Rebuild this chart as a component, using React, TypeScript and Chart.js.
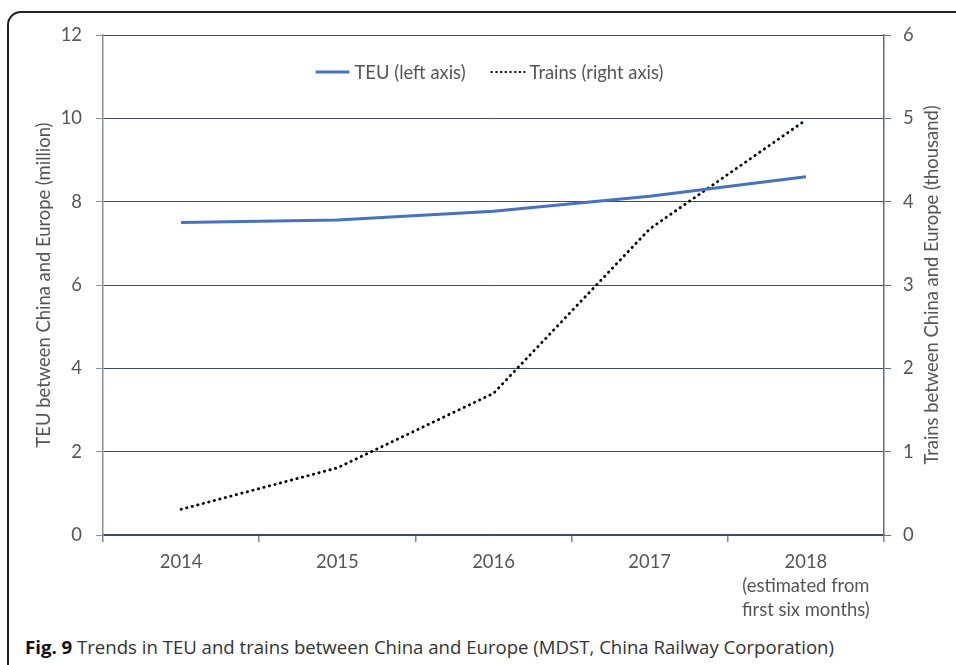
import { useEffect, useRef } from "react";
import { Chart, registerables } from "chart.js";

Chart.register(...registerables);

const categories: string[][] = [
  ["2014"],
  ["2015"],
  ["2016"],
  ["2017"],
  ["2018", "(estimated from", "first six months)"],
];
const teuValues = [7.5, 7.56, 7.77, 8.13, 8.6];
const trainValues = [0.308, 0.805, 1.7, 3.673, 4.98];
const teuLabel = "TEU (left axis)";
const trainLabel = "Trains (right axis)";
const leftTitle = "TEU between China and Europe (million)";
const rightTitle = "Trains between China and Europe (thousand)";

const FONT = "Lato";
const FS = 18.4;
const TXT = "#555555";
const GRID = "#3d4b69";
const BLUE = "#4472c4";

const legendAndTitlePlugin = {
  id: "customLegendTitle",
  afterDraw(chart: any) {
    const { ctx, chartArea } = chart;
    ctx.save();
    ctx.font = `${FS}px ${FONT}`;
    ctx.fillStyle = TXT;
    ctx.textBaseline = "middle";
    const sample = 34;
    const gapText = 5;
    const gapItem = 25;
    const w1 = ctx.measureText(teuLabel).width;
    const w2 = ctx.measureText(trainLabel).width;
    const total = sample + gapText + w1 + gapItem + sample + gapText + w2;
    let x = (chartArea.left + chartArea.right) / 2 - 4 - total / 2;
    const y = chartArea.top + 37;
    ctx.strokeStyle = BLUE;
    ctx.lineWidth = 3;
    ctx.setLineDash([]);
    ctx.beginPath();
    ctx.moveTo(x, y);
    ctx.lineTo(x + sample, y);
    ctx.stroke();
    x += sample + gapText;
    ctx.fillText(teuLabel, x, y + 1);
    x += w1 + gapItem;
    ctx.strokeStyle = "#000";
    ctx.lineWidth = 2.2;
    ctx.lineCap = "round";
    ctx.setLineDash([0.3, 4.4]);
    ctx.beginPath();
    ctx.moveTo(x + 1, y);
    ctx.lineTo(x + sample, y);
    ctx.stroke();
    ctx.setLineDash([]);
    x += sample + gapText;
    ctx.fillText(trainLabel, x, y + 1);
    ctx.translate(932, (chartArea.top + chartArea.bottom) / 2);
    ctx.rotate(-Math.PI / 2);
    ctx.textAlign = "center";
    ctx.fillText(rightTitle, 0, 0);
    ctx.restore();
  },
};

export default function App() {
  const ref = useRef<HTMLCanvasElement | null>(null);

  useEffect(() => {
    if (!ref.current) return;
    const chart = new Chart(ref.current, {
      type: "line",
      data: {
        labels: categories as any,
        datasets: [
          {
            label: teuLabel,
            data: teuValues,
            yAxisID: "y",
            borderColor: BLUE,
            borderWidth: 3,
            pointRadius: 0,
            tension: 0,
            fill: false,
          },
          {
            label: trainLabel,
            data: trainValues,
            yAxisID: "y1",
            borderColor: "#000000",
            borderWidth: 2.8,
            borderDash: [0.4, 5.3],
            borderCapStyle: "round",
            pointRadius: 0,
            tension: 0,
            fill: false,
          },
        ],
      },
      plugins: [legendAndTitlePlugin],
      options: {
        animation: false,
        responsive: true,
        maintainAspectRatio: false,
        layout: { padding: { left: 24, right: 0, top: 35, bottom: 0 } },
        plugins: {
          tooltip: { enabled: false },
          legend: { display: false },
        },
        scales: {
          x: {
            type: "category",
            offset: true,
            afterFit: (s: any) => {
              s.height = 91;
            },
            grid: {
              offset: true,
              drawOnChartArea: false,
              drawTicks: true,
              tickLength: 7,
              color: "#7a8599",
              lineWidth: 1.5,
            },
            border: { display: true, color: GRID, width: 1.5 },
            ticks: {
              font: { family: FONT, size: FS, lineHeight: 1.3 },
              color: TXT,
              padding: 8,
              maxRotation: 0,
              autoSkip: false,
            },
          },
          y: {
            position: "left",
            min: 0,
            max: 12,
            afterFit: (s: any) => {
              s.width = 79;
            },
            ticks: {
              stepSize: 2,
              font: { family: FONT, size: FS },
              color: TXT,
              padding: 14,
            },
            grid: {
              color: GRID,
              lineWidth: 1,
              tickLength: 7,
              tickColor: "#8a93a6",
            },
            border: { display: true, color: "#8a8f9c", width: 1.5 },
            title: {
              display: true,
              text: leftTitle,
              font: { family: FONT, size: FS },
              color: TXT,
              padding: { top: 9, bottom: 9 },
            },
          },
          y1: {
            position: "right",
            min: 0,
            max: 6,
            afterFit: (s: any) => {
              s.width = 72;
            },
            ticks: {
              stepSize: 1,
              font: { family: FONT, size: FS },
              color: TXT,
              padding: 12,
            },
            grid: {
              drawOnChartArea: false,
              tickLength: 7,
              color: "#5f6c86",
            },
            border: { display: true, color: "#5f6c86", width: 1.5 },
          },
        },
      },
    });
    return () => chart.destroy();
  }, []);

  return (
    <div
      style={{
        position: "absolute",
        left: 0,
        top: 0,
        width: 956,
        height: 665,
        overflow: "hidden",
        background: "#fff",
      }}
    >
      <div
        style={{
          position: "absolute",
          left: 7,
          top: 11,
          width: 1000,
          height: 720,
          border: "2px solid #222",
          borderRadius: 14,
          boxSizing: "border-box",
        }}
      />
      <div style={{ position: "absolute", left: 0, top: 0, width: 956, height: 626 }}>
        <canvas ref={ref} />
      </div>
      <div
        style={{
          position: "absolute",
          left: 25,
          top: 634,
          fontFamily: "'Open Sans', sans-serif",
          fontSize: 18.6,
          color: "#333",
          whiteSpace: "nowrap",
          lineHeight: "26px",
        }}
      >
        <b style={{ color: "#111" }}>Fig. 9</b> Trends in TEU and trains between China and Europe (MDST, China Railway Corporation)
      </div>
    </div>
  );
}
